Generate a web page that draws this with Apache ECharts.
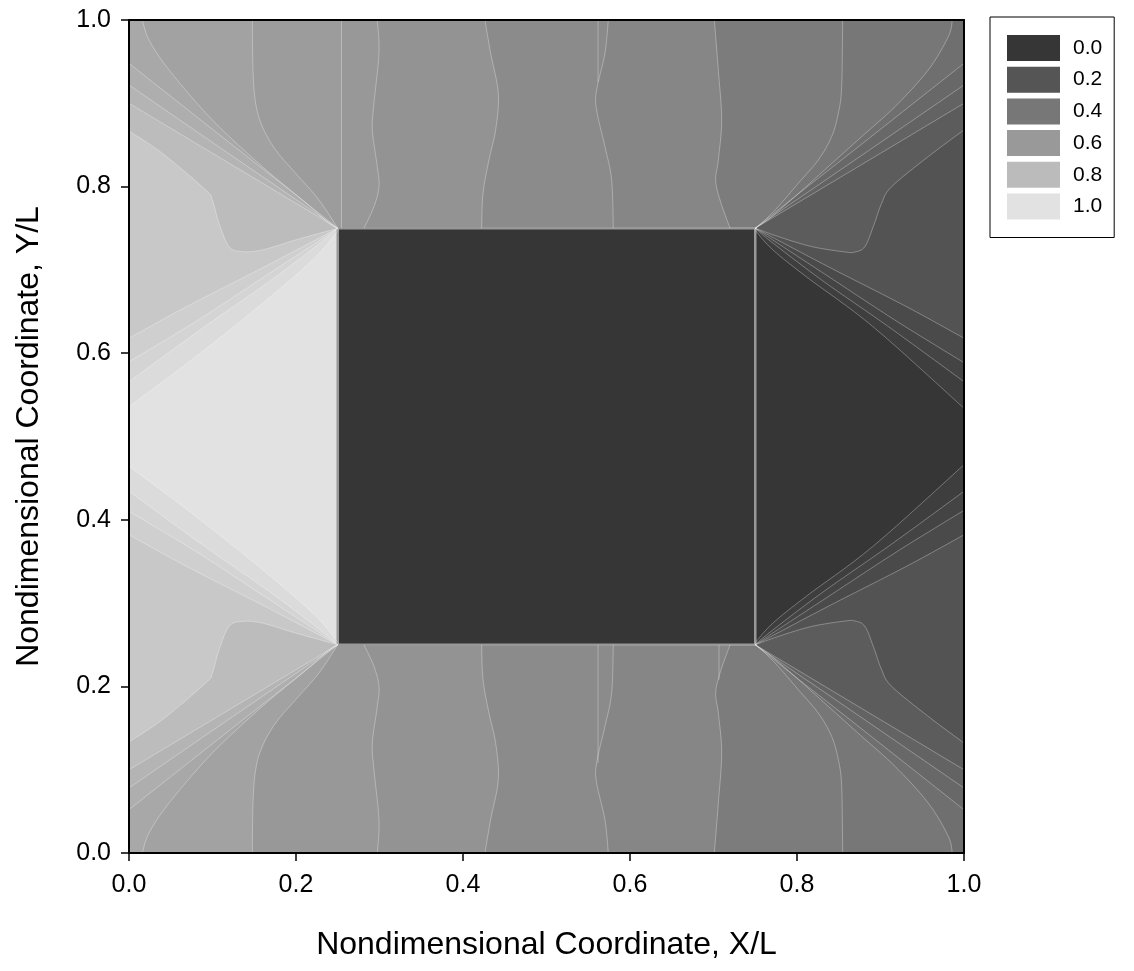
<!DOCTYPE html>
<html>
<head>
<meta charset="utf-8">
<script src="https://cdn.jsdelivr.net/npm/echarts@6/dist/echarts.min.js"></script>
<style>
html,body{margin:0;padding:0;background:#fff;}
#chart{width:1134px;height:971px;}
</style>
</head>
<body>
<div id="chart"></div>
<script>
// ---------------- DATA ----------------
// legend / colour-scale levels
const legendLabels = ['0.0', '0.2', '0.4', '0.6', '0.8', '1.0'];
const legendValues = [0.0, 0.2, 0.4, 0.6, 0.8, 1.0];
// axis tick values
const xTickValues = [0.0, 0.2, 0.4, 0.6, 0.8, 1.0];
const yTickValues = [0.0, 0.2, 0.4, 0.6, 0.8, 1.0];
// inner block (value 0) and value of the lowest region
const blockCorners = [[0.25, 0.25], [0.75, 0.75]];
const blockValue = 0.0;
const baseValue = 0.0;

// contour lines of the upper half (y >= 0.5); each starts on the block / its corner
// and ends on the domain edge. value = field value on the higher side of the line.
const contourNames = ['Rk','Rj','Ri','Rh','Rg','R3','R2','R1','T6','T5','T4','T3','T2','T1','a','b','c','d','e','f','g','h','i','j','k'];
const contourValues = [0.05, 0.09, 0.13, 0.19, 0.24, 0.28, 0.31, 0.35, 0.40, 0.43, 0.49, 0.52, 0.565, 0.595, 0.62, 0.655, 0.69, 0.725, 0.76, 0.805, 0.865, 0.90, 0.93, 0.965, 1.0];
// true: the lower half holds the mirror image of the line
const contourMirrored = [true,true,true,true,true,true,true,true,true,true,true,true,true,true,false,true,true,true,true,true,true,true,true,true,true];
const contourPaths = [
  [[0.75,0.75],[0.7517,0.7455],[0.7716,0.7236],[0.8115,0.6915],[0.8914,0.6315],[1,0.5339]],
  [[0.75,0.75],[0.765,0.737],[0.83,0.6875],[0.91,0.6315],[1,0.5658]],
  [[0.75,0.75],[0.77,0.7365],[0.84,0.6905],[0.92,0.638],[1,0.5886]],
  [[0.75,0.75],[0.775,0.7368],[0.84,0.7025],[0.9314,0.6557],[1,0.618]],
  [[0.75,0.75],[0.7776,0.740],[0.8176,0.728],[0.8575,0.7215],[0.8695,0.7215],[0.8814,0.728],[0.8914,0.752],[0.9014,0.780],[0.9134,0.800],[0.9572,0.836],[1,0.868]],
  [[0.75,0.75],[0.80,0.78],[0.90,0.84],[1,0.90]],
  [[0.75,0.75],[0.80,0.7844],[0.90,0.853],[1,0.922]],
  [[0.75,0.75],[0.80,0.79],[0.88,0.853],[1,0.948]],
  [[0.75,0.75],[0.7697,0.764],[0.7976,0.788],[0.8375,0.824],[0.8775,0.860],[0.9174,0.896],[0.9572,0.940],[0.9812,0.980],[0.986,1]],
  [[0.75,0.75],[0.7617,0.760],[0.7776,0.776],[0.8016,0.804],[0.8255,0.832],[0.8415,0.860],[0.8495,0.888],[0.8535,0.920],[0.8547,1]],
  [[0.7198,0.75],[0.7078,0.784],[0.7026,0.808],[0.7058,0.832],[0.7098,0.880],[0.7058,0.940],[0.701,1]],
  [[0.580,0.75],[0.578,0.808],[0.570,0.848],[0.560,0.892],[0.560,0.916],[0.570,0.960],[0.574,1]],
  [[0.4223,0.75],[0.4240,0.792],[0.4311,0.832],[0.4391,0.868],[0.4423,0.912],[0.4331,0.960],[0.4263,1]],
  [[0.2814,0.75],[0.2934,0.776],[0.2994,0.800],[0.2974,0.824],[0.2914,0.868],[0.2934,0.9004],[0.2994,0.9604],[0.2974,1]],
  [[0.2545,0.75],[0.2545,1]],
  [[0.25,0.75],[0.2275,0.784],[0.1996,0.816],[0.1756,0.844],[0.1597,0.872],[0.1517,0.900],[0.1485,0.940],[0.1477,1]],
  [[0.25,0.75],[0.2395,0.756],[0.2076,0.784],[0.1597,0.824],[0.0998,0.880],[0.048,0.940],[0.024,0.976],[0.016,1]],
  [[0.25,0.75],[0.20,0.79],[0.12,0.853],[0,0.948]],
  [[0.25,0.75],[0.20,0.7844],[0.10,0.853],[0,0.922]],
  [[0.25,0.75],[0.20,0.78],[0.10,0.84],[0,0.90]],
  [[0.25,0.75],[0.1996,0.736],[0.1597,0.724],[0.1357,0.722],[0.1198,0.728],[0.1078,0.756],[0.0998,0.784],[0.0918,0.796],[0.0399,0.840],[0,0.8667]],
  [[0.25,0.75],[0.225,0.7368],[0.16,0.7025],[0.0686,0.6557],[0,0.618]],
  [[0.25,0.75],[0.23,0.7365],[0.16,0.6905],[0.08,0.638],[0,0.5898]],
  [[0.25,0.75],[0.235,0.737],[0.17,0.6875],[0.09,0.6315],[0,0.5658]],
  [[0.25,0.75],[0.2475,0.7437],[0.2196,0.7117],[0.1597,0.6597],[0.0798,0.5957],[0,0.5358]]
];
// short stray contour segments visible in the plot (drawn as lines only)
const strayLines = [
  [[0.5617,1.0],[0.5617,0.926]],
  [[0.5617,0.25],[0.5617,0.108]],
  [[0.7066,0.25],[0.7066,0.208]]
];

// ---------------- STYLE ----------------
const FONT = "'Liberation Sans', Arial, Helvetica, sans-serif";
const grayStops = [54, 85, 119, 153, 187, 226];
function grayOf(v) {
  v = Math.max(0, Math.min(1, v));
  let i = Math.min(legendValues.length - 2, Math.floor(v / 0.2));
  const t = (v - legendValues[i]) / (legendValues[i + 1] - legendValues[i]);
  const g = Math.round(grayStops[i] + t * (grayStops[i + 1] - grayStops[i]));
  return 'rgb(' + g + ',' + g + ',' + g + ')';
}
const lineColor = 'rgba(255,255,255,0.3)';
const SUBSTEPS = 8;

// smooth curve through the pixel positions of the read points (Catmull-Rom drawing)
function smoothPx(api, path) {
  const P = path.map(p => api.coord(p));
  if (P.length < 3) return P;
  const out = [];
  for (let i = 0; i < P.length - 1; i++) {
    const p0 = P[Math.max(0, i - 1)], p1 = P[i], p2 = P[i + 1], p3 = P[Math.min(P.length - 1, i + 2)];
    for (let s = 0; s < SUBSTEPS; s++) {
      const t = s / SUBSTEPS, t2 = t * t, t3 = t2 * t;
      const f = k => 0.5 * ((2 * p1[k]) + (-p0[k] + p2[k]) * t + (2 * p0[k] - 5 * p1[k] + 4 * p2[k] - p3[k]) * t2 + (-p0[k] + 3 * p1[k] - 3 * p2[k] + p3[k]) * t3);
      out.push([f(0), f(1)]);
    }
  }
  out.push(P[P.length - 1]);
  return out;
}
function mirror(path) { return path.map(p => [p[0], 1 - p[1]]); }
// closing path of a "higher side" region along the domain edge
function closure(end) {
  if (end[0] >= 0.999) return [[1, 1], [0, 1]];
  if (end[1] >= 0.999) return [[0, 1]];
  return [];
}
function regionPolygonPx(api, path, mirrored) {
  const px = pts => pts.map(p => api.coord(p));
  const cl = closure(path[path.length - 1]);
  const top = smoothPx(api, path).concat(px(cl));
  if (!mirrored) return top.concat(px([[0, 0.5], [0.25, 0.5], [0.25, 0.75]]));
  const bottom = smoothPx(api, mirror(path)).concat(px(mirror(cl))).reverse();
  return top.concat(px([[0, 0.5]]), bottom, px([[0.25, 0.25], [0.25, 0.75]]));
}

function renderField(params, api) {
  const px = pts => pts.map(p => api.coord(p));
  const children = [];
  children.push({
    type: 'polygon', shape: { points: px([[0,0],[1,0],[1,1],[0,1]]) },
    style: { fill: grayOf(baseValue), stroke: null }
  });
  for (let i = 0; i < contourPaths.length; i++) {
    children.push({
      type: 'polygon',
      shape: { points: regionPolygonPx(api, contourPaths[i], contourMirrored[i]) },
      style: { fill: grayOf(contourValues[i]), stroke: null }
    });
  }
  const c0 = api.coord(blockCorners[0]);
  const c1 = api.coord(blockCorners[1]);
  children.push({
    type: 'rect',
    shape: { x: Math.min(c0[0], c1[0]), y: Math.min(c0[1], c1[1]), width: Math.abs(c1[0] - c0[0]), height: Math.abs(c1[1] - c0[1]) },
    style: { fill: grayOf(blockValue), stroke: '#989898', lineWidth: 2.5 }
  });
  const lineStyle = { fill: null, stroke: lineColor, lineWidth: 1 };
  for (let i = 0; i < contourPaths.length; i++) {
    children.push({ type: 'polyline', shape: { points: smoothPx(api, contourPaths[i]) }, style: lineStyle });
    if (contourMirrored[i]) {
      children.push({ type: 'polyline', shape: { points: smoothPx(api, mirror(contourPaths[i])) }, style: lineStyle });
    }
  }
  strayLines.forEach(s => {
    children.push({ type: 'polyline', shape: { points: px(s) }, style: lineStyle });
  });
  return { type: 'group', children: children };
}

const axisNameStyle = { fontSize: 32, color: '#000', fontFamily: FONT };
const tickLabelStyle = { fontSize: 25, color: '#000', fontFamily: FONT, formatter: v => v.toFixed(1) };

const legendSeries = legendLabels.map((name, i) => ({
  name: name, type: 'line', data: [],
  itemStyle: { color: grayOf(legendValues[i]) },
  lineStyle: { color: grayOf(legendValues[i]) }
}));

const chart = echarts.init(document.getElementById('chart'), null, { renderer: 'canvas' });
chart.setOption({
  animation: false,
  backgroundColor: '#fff',
  grid: { left: 129, right: 170, top: 20, bottom: 118, show: false },
  xAxis: [
    {
      type: 'value', min: 0, max: 1, interval: 0.2, position: 'bottom', z: 5,
      axisLine: { show: true, onZero: false, lineStyle: { color: '#000', width: 2 } },
      axisTick: { show: true, inside: false, length: 8, lineStyle: { color: '#000', width: 1.5 } },
      axisLabel: Object.assign({ margin: 20 }, tickLabelStyle),
      splitLine: { show: false },
      name: 'Nondimensional Coordinate, X/L', nameLocation: 'middle', nameGap: 76,
      nameTextStyle: axisNameStyle
    },
    {
      type: 'value', min: 0, max: 1, position: 'top', z: 5,
      axisLine: { show: true, onZero: false, lineStyle: { color: '#000', width: 2 } },
      axisTick: { show: false }, axisLabel: { show: false }, splitLine: { show: false }
    }
  ],
  yAxis: [
    {
      type: 'value', min: 0, max: 1, interval: 0.2, position: 'left', z: 5,
      axisLine: { show: true, onZero: false, lineStyle: { color: '#000', width: 2 } },
      axisTick: { show: true, inside: false, length: 8, lineStyle: { color: '#000', width: 1.5 } },
      axisLabel: Object.assign({ margin: 18 }, tickLabelStyle),
      splitLine: { show: false },
      name: 'Nondimensional Coordinate, Y/L', nameLocation: 'middle', nameGap: 84, nameRotate: 90,
      nameTextStyle: axisNameStyle
    },
    {
      type: 'value', min: 0, max: 1, position: 'right', z: 5,
      axisLine: { show: true, onZero: false, lineStyle: { color: '#000', width: 2 } },
      axisTick: { show: false }, axisLabel: { show: false }, splitLine: { show: false }
    }
  ],
  legend: {
    orient: 'vertical', left: 990, top: 17, icon: 'rect', selectedMode: false,
    itemWidth: 53, itemHeight: 26, itemGap: 5.7,
    padding: [18, 12, 18, 17],
    borderColor: '#000', borderWidth: 1, backgroundColor: '#fff',
    textStyle: { fontSize: 21, color: '#000', fontFamily: FONT, padding: [0, 0, 0, 8] },
    data: legendLabels
  },
  series: [
    {
      type: 'custom', name: 'field', coordinateSystem: 'cartesian2d', z: 1, clip: true,
      renderItem: renderField, data: [[0.5, 0.5]], silent: true
    }
  ].concat(legendSeries)
});
</script>
</body>
</html>
